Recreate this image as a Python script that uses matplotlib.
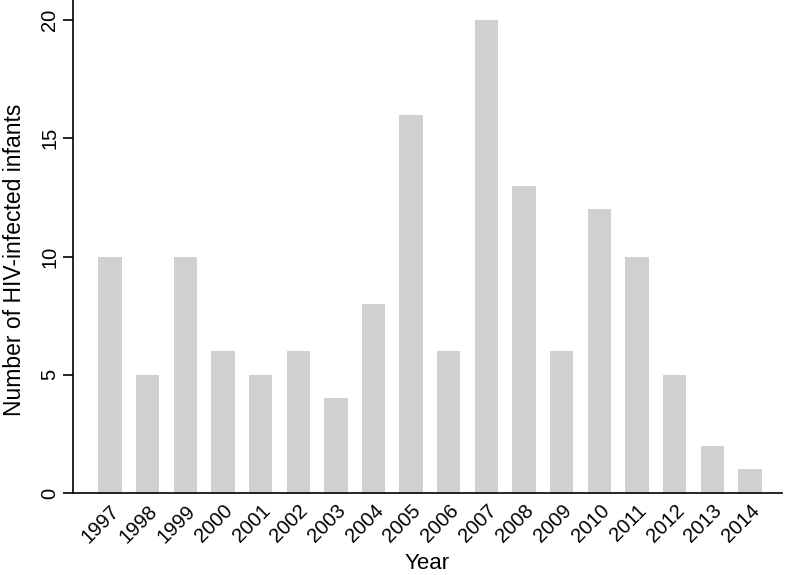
import numpy as np
import matplotlib.pyplot as plt

plt.rcParams['font.family'] = ['Liberation Sans', 'DejaVu Sans']

years = ['1997', '1998', '1999', '2000', '2001', '2002', '2003', '2004', '2005',
         '2006', '2007', '2008', '2009', '2010', '2011', '2012', '2013', '2014']
counts = [10, 5, 10, 6, 5, 6, 4, 8, 16, 6, 20, 13, 6, 12, 10, 5, 2, 1]

fig = plt.figure(figsize=(7.87, 5.75), dpi=100)
ax = fig.add_axes([0.0928, 0.1426, 0.9009, 0.8574])

x = np.arange(len(years))
ax.bar(x, counts, width=0.62, color='#d0d0d0')

ax.set_xlim(-0.98, 17.85)
ax.set_ylim(0, 20.85)
ax.set_yticks([0, 5, 10, 15, 20])
ax.set_yticklabels(['0', '5', '10', '15', '20'], rotation=90, va='center', fontsize=14.5)
ax.set_xticks(x)
ax.set_xticklabels(years, rotation=45, ha='right', rotation_mode='anchor', fontsize=14.5)
ax.tick_params(axis='x', length=0, pad=6)
ax.tick_params(axis='y', length=7, width=1.2, pad=3)

for s in ['top', 'right']:
    ax.spines[s].set_visible(False)
for s in ['left', 'bottom']:
    ax.spines[s].set_linewidth(1.2)

ax.set_xlabel('Year', fontsize=16, labelpad=5)
ax.set_ylabel('Number of HIV-infected infants', fontsize=16.5, va='center')
ax.yaxis.set_label_coords(-0.083, 0.473)

fig.savefig('out.png', dpi=100)
